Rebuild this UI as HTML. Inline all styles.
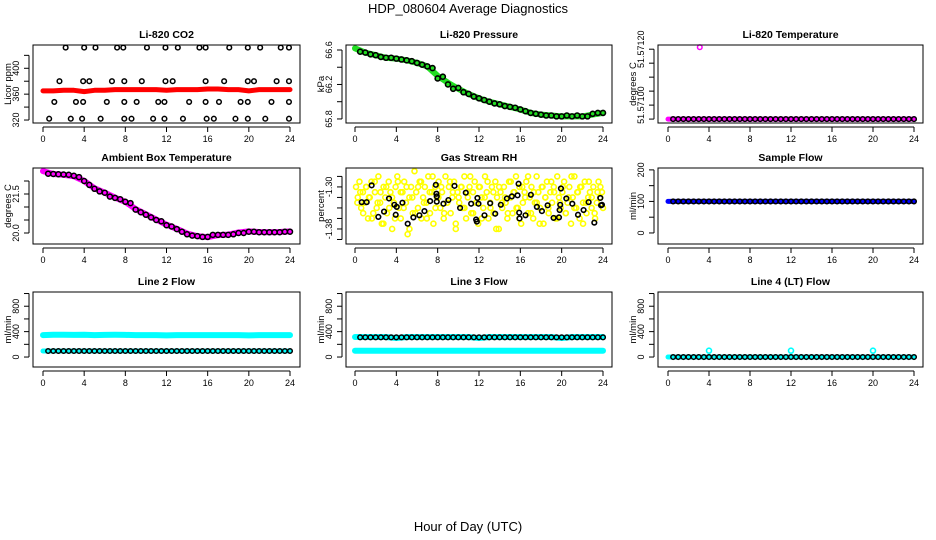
<!DOCTYPE html>
<html><head><meta charset="utf-8"><style>
html,body{margin:0;padding:0;background:#fff;}
svg{display:block;font-family:"Liberation Sans",sans-serif;}
</style></head><body>
<svg id="chart" width="936" height="540" viewBox="0 0 936 540">
<text x="468" y="13" text-anchor="middle" font-size="13">HDP_080604  Average Diagnostics</text>
<text x="468" y="531" text-anchor="middle" font-size="13">Hour of Day (UTC)</text>
</svg>
<script>
// ---------- data ----------
const xTicks = [0,4,8,12,16,20,24];
const halfHours = [0.5,1,1.5,2,2.5,3,3.5,4,4.5,5,5.5,6,6.5,7,7.5,8,8.5,9,9.5,10,10.5,11,11.5,12,12.5,13,13.5,14,14.5,15,15.5,16,16.5,17,17.5,18,18.5,19,19.5,20,20.5,21,21.5,22,22.5,23,23.5,24];
const hours = [0,1,2,3,4,5,6,7,8,9,10,11,12,13,14,15,16,17,18,19,20,21,22,23,24];

// CO2
const co2Red = [365,365,366,366,364,366,366,367,367,367,367,367,366,367,367,367,368,368,367,367,365,367,367,367,367];
const co2BlackHours = [2.2,4.0,5.1,7.2,7.8,10.1,11.9,13.1,15.2,15.8,18.1,19.9,21.1,23.1,23.9, 1.6,3.9,4.5,6.7,7.9,9.6,11.9,12.6,15.8,17.6,19.9,20.5,22.7,23.9, 1.1,3.2,3.9,6.2,7.9,9.1,11.2,11.8,14.2,15.8,17.1,19.2,19.9,22.2,23.9, 0.6,2.7,3.8,5.6,7.9,8.6,10.7,11.8,13.6,15.9,16.6,18.7,19.9,21.6,23.9];
const co2BlackVals = [432,432,432,432,432,432,432,432,432,432,432,432,432,432,432, 380,380,380,380,380,380,380,380,380,380,380,380,380,380, 348,348,348,348,348,348,348,348,348,348,348,348,348,348,348, 322,322,322,322,322,322,322,322,322,322,322,322,322,322,322];

// Pressure
const presBlack = [66.58,66.57,66.55,66.54,66.52,66.51,66.51,66.50,66.49,66.48,66.47,66.45,66.43,66.41,66.39,66.27,66.29,66.20,66.15,66.16,66.11,66.09,66.06,66.04,66.02,66.00,65.98,65.97,65.95,65.94,65.93,65.91,65.89,65.87,65.86,65.85,65.84,65.84,65.83,65.83,65.84,65.83,65.84,65.83,65.83,65.86,65.87,65.87];
const presGreen = [66.62,66.57,66.54,66.51,66.50,66.48,66.45,66.41,66.30,66.22,66.15,66.09,66.04,66.00,65.97,65.94,65.91,65.87,65.85,65.84,65.83,65.83,65.83,65.85,65.87];

// Li-820 temperature
const liTempPink = [51.57100,51.57100,51.57100,51.57100,51.57100,51.57100,51.57100,51.57100,51.57100,51.57100,51.57100,51.57100,51.57100,51.57100,51.57100,51.57100,51.57100,51.57100,51.57100,51.57100,51.57100,51.57100,51.57100,51.57100,51.57100];
const liTempOutlierHour = [3.1];
const liTempOutlierVal = [51.571257];
const liTempBlack = [51.571,51.571,51.571,51.571,51.571,51.571,51.571,51.571,51.571,51.571,51.571,51.571,51.571,51.571,51.571,51.571,51.571,51.571,51.571,51.571,51.571,51.571,51.571,51.571,51.571,51.571,51.571,51.571,51.571,51.571,51.571,51.571,51.571,51.571,51.571,51.571,51.571,51.571,51.571,51.571,51.571,51.571,51.571,51.571,51.571,51.571,51.571,51.571];

// Ambient box temperature
const ambBlack = [22.28,22.27,22.26,22.25,22.24,22.2,22.15,22.0,21.85,21.7,21.6,21.55,21.4,21.35,21.3,21.2,21.15,20.9,20.8,20.7,20.6,20.5,20.45,20.3,20.25,20.15,20.05,19.95,19.9,19.88,19.85,19.85,19.93,19.93,19.93,19.93,19.95,20.0,20.0,20.05,20.05,20.03,20.03,20.03,20.03,20.03,20.05,20.05];
const ambPink = [22.38,22.27,22.24,22.18,22.0,21.72,21.55,21.36,21.2,20.92,20.72,20.52,20.32,20.16,19.98,19.88,19.84,19.92,19.94,20.02,20.06,20.04,20.03,20.04,20.06];

// Gas stream RH
const rhYellow = [-1.30,-1.32,-1.29,-1.34,-1.31,-1.33,-1.30,-1.36,-1.32,-1.29,-1.35,-1.31,-1.34,-1.28,-1.33,-1.37,-1.30,-1.32,-1.35,-1.29,-1.31,-1.38,-1.33,-1.30,-1.28,-1.34,-1.36,-1.31,-1.29,-1.33,-1.39,-1.32,-1.30,-1.35,-1.27,-1.31,-1.34,-1.29,-1.36,-1.32,-1.30,-1.33,-1.28,-1.35,-1.31,-1.37,-1.30,-1.32,-1.29,-1.34,-1.31,-1.36,-1.28,-1.33,-1.30,-1.35,-1.32,-1.29,-1.38,-1.31,-1.33,-1.30,-1.34,-1.28,-1.36,-1.32,-1.30,-1.35,-1.31,-1.29,-1.33,-1.37,-1.30,-1.32,-1.34,-1.28,-1.31,-1.36,-1.33,-1.30,-1.35,-1.29,-1.32,-1.38,-1.31,-1.34,-1.30,-1.33,-1.36,-1.29,-1.32,-1.35,-1.31,-1.28,-1.34,-1.30,-1.37,-1.33,-1.31,-1.29,-1.35,-1.32,-1.30,-1.36,-1.33,-1.28,-1.31,-1.34,-1.30,-1.37,-1.32,-1.29,-1.35,-1.31,-1.33,-1.30,-1.36,-1.28,-1.32,-1.34,-1.31,-1.29,-1.35,-1.33,-1.30,-1.37,-1.32,-1.28,-1.34,-1.31,-1.36,-1.30,-1.33,-1.29,-1.35,-1.32,-1.31,-1.34,-1.30,-1.36,-1.33,-1.29,-1.32,-1.31];
const rhYellow2 = [-1.33,-1.31,-1.35,-1.30,-1.32,-1.36,-1.29,-1.33,-1.31,-1.37,-1.30,-1.34,-1.32,-1.36,-1.29,-1.31,-1.34,-1.30,-1.38,-1.32,-1.35,-1.30,-1.29,-1.33,-1.36,-1.31,-1.28,-1.34,-1.32,-1.30,-1.35,-1.33,-1.29,-1.31,-1.37,-1.32,-1.30,-1.34,-1.31,-1.28,-1.35,-1.33,-1.30,-1.36,-1.32,-1.29,-1.34,-1.31,-1.38,-1.30,-1.33,-1.32,-1.35,-1.29,-1.31,-1.34,-1.36,-1.30,-1.32,-1.28,-1.35,-1.31,-1.33,-1.37,-1.30,-1.32,-1.34,-1.29,-1.31,-1.36,-1.33,-1.30,-1.35,-1.32,-1.28,-1.34,-1.31,-1.30,-1.37,-1.33,-1.29,-1.32,-1.35,-1.31,-1.30,-1.34];
const rhBlackHours = [0.65,1.13,1.61,2.26,2.81,3.29,3.81,3.94,4.04,4.59,5.10,5.65,6.23,6.72,7.27,7.82,7.88,7.91,7.91,8.56,9.04,9.63,10.17,10.72,11.24,11.72,11.79,11.85,11.95,12.53,13.08,13.57,14.11,14.70,15.18,15.73,15.83,15.89,15.92,16.50,17.02,17.60,18.09,18.64,19.22,19.74,19.80,19.86,19.93,20.45,21.03,21.58,22.12,22.61,23.16,23.74,23.81,23.90];
const rhBlackVals = [-1.329,-1.329,-1.297,-1.357,-1.347,-1.322,-1.334,-1.353,-1.338,-1.330,-1.370,-1.358,-1.354,-1.346,-1.327,-1.296,-1.313,-1.318,-1.328,-1.332,-1.325,-1.298,-1.340,-1.311,-1.332,-1.362,-1.366,-1.321,-1.332,-1.354,-1.331,-1.351,-1.334,-1.322,-1.318,-1.316,-1.294,-1.349,-1.360,-1.354,-1.315,-1.338,-1.346,-1.335,-1.359,-1.358,-1.344,-1.334,-1.303,-1.322,-1.332,-1.353,-1.344,-1.329,-1.368,-1.321,-1.335,-1.334];

// Sample flow
const sampleBlue = [100,100,100,100,100,100,100,100,100,100,100,100,100,100,100,100,100,100,100,100,100,100,100,100,100];
const sampleBlack = [100,100,100,100,100,100,100,100,100,100,100,100,100,100,100,100,100,100,100,100,100,100,100,100,100,100,100,100,100,100,100,100,100,100,100,100,100,100,100,100,100,100,100,100,100,100,100,100];

// Line 2 flow
const line2Cyan = [345,350,350,348,350,345,348,350,348,345,345,345,340,345,345,345,345,345,345,345,340,345,345,345,345];
const line2CyanLow = [95,95,95,95,95,95,95,95,95,95,95,95,95,95,95,95,95,95,95,95,95,95,95,95,95];
const line2Black = [95,95,95,95,95,95,95,95,95,95,95,95,95,95,95,95,95,95,95,95,95,95,95,95,95,95,95,95,95,95,95,95,95,95,95,95,95,95,95,95,95,95,95,95,95,95,95,95];

// Line 3 flow
const line3Cyan = [315,315,315,315,300,315,315,315,315,315,315,315,300,315,315,315,315,315,315,315,300,315,315,315,315];
const line3CyanLow = [100,100,100,100,100,100,100,100,100,100,100,100,100,100,100,100,100,100,100,100,100,100,100,100,100];
const line3Black = [310,310,310,310,310,310,310,310,310,310,310,310,310,310,310,310,310,310,310,310,310,310,310,310,310,310,310,310,310,310,310,310,310,310,310,310,310,310,310,310,310,310,310,310,310,310,310,310];

// Line 4 flow
const line4Cyan = [0,0,0,0,0,0,0,0,0,0,0,0,0,0,0,0,0,0,0,0,0,0,0,0,0];
const line4OutlierHours = [4,12,20];
const line4OutlierVals = [100,100,100];
const line4Black = [0,0,0,0,0,0,0,0,0,0,0,0,0,0,0,0,0,0,0,0,0,0,0,0,0,0,0,0,0,0,0,0,0,0,0,0,0,0,0,0,0,0,0,0,0,0,0,0];

// ---------- drawing ----------
const NS = "http://www.w3.org/2000/svg";
const svg = document.getElementById('chart');
function mk(tag, attrs, parent){
  const e = document.createElementNS(NS, tag);
  for (const k in attrs) e.setAttribute(k, attrs[k]);
  (parent||svg).appendChild(e);
  return e;
}
const cols = [{l:33,r:300,x0:43,x1:290},{l:346,r:612,x0:355,x1:603},{l:658,r:923,x0:668,x1:914}];
const rows = [{t:45,b:123},{t:168,b:244},{t:292,b:367}];

function panel(name, title, ytitle, ci, ri, ymin, ymax, yticks, ylabels){
  const c = cols[ci], r = rows[ri];
  const g = mk('g', {});
  
  
  const xs = h => c.x0 + (c.x1 - c.x0) * h / 24;
  const ys = v => r.b - (v - ymin) / (ymax - ymin) * (r.b - r.t);
  const t = mk('text', {x:(c.l+c.r)/2, y:r.t-7, 'text-anchor':'middle', 'font-size':10.5, 'font-weight':'bold'}, g);
  t.textContent = title;
  
  
  const plot = mk('g', {}, g);
  
  
  const xa = mk('g', {}, g);
  
  
  mk('line', {x1:xs(0), x2:xs(24), y1:r.b+4, y2:r.b+4, stroke:'#000'}, xa);
  xTicks.forEach(h => {
    mk('line', {x1:xs(h), x2:xs(h), y1:r.b+4, y2:r.b+9, stroke:'#000'}, xa);
    const tl = mk('text', {x:xs(h), y:r.b+19, 'text-anchor':'middle', 'font-size':9}, xa);
    tl.textContent = h;
    
    
  });
  const ya = mk('g', {}, g);
  
  
  const ax = c.l - 4;
  mk('line', {x1:ax, x2:ax, y1:ys(yticks[0]), y2:ys(yticks[yticks.length-1]), stroke:'#000'}, ya);
  yticks.forEach(v => mk('line', {x1:ax-5, x2:ax, y1:ys(v), y2:ys(v), stroke:'#000'}, ya));
  ylabels.forEach(l => {
    const yy = ys(l.v);
    const tl = mk('text', {x:ax-10, y:yy, 'text-anchor':'middle', 'font-size':9, transform:`rotate(-90 ${ax-10} ${yy})`}, ya);
    tl.textContent = l.t;
    
    
  });
  const yt = mk('text', {x:c.l-22, y:(r.t+r.b)/2, 'text-anchor':'middle', 'font-size':9.5, transform:`rotate(-90 ${c.l-22} ${(r.t+r.b)/2})`}, ya);
  yt.textContent = ytitle;
  
  
  mk('rect', {x:c.l, y:r.t, width:c.r-c.l, height:r.b-r.t, fill:'none', stroke:'#000'}, g);
  return {xs, ys, plot};
}
function line(p, xsArr, vals, color, w){
  const pts = vals.map((v,i) => p.xs(xsArr[i]).toFixed(1) + ',' + p.ys(v).toFixed(1)).join(' ');
  const e = mk('polyline', {points:pts, fill:'none', stroke:color, 'stroke-width':w, 'stroke-linejoin':'round', 'stroke-linecap':'round'}, p.plot);
  
  
}
function pts(p, xsArr, vals, color, rad, sw, fill){
  vals.forEach((v,i) => {
    const e = mk('circle', {cx:p.xs(xsArr[i]), cy:p.ys(v), r:rad, fill:fill||'none', stroke:color, 'stroke-width':sw}, p.plot);
    
    
  });
}
function idxHours(n){ return Array.from({length:n}, (_,i) => 0.1 + i * 23.8 / (n-1)); }

let p = panel('co2-panel', 'Li-820 CO2', 'Licor ppm', 0, 0, 315.4, 436, [320,340,360,380,400,420], [{v:320,t:'320'},{v:360,t:'360'},{v:400,t:'400'}]);
line(p, hours, co2Red, '#ff0000', 5);
pts(p, co2BlackHours, co2BlackVals, '#000', 2.3, 1.5);

p = panel('pressure-panel', 'Li-820 Pressure', 'kPa', 1, 0, 65.753, 66.658, [65.8,66.0,66.2,66.4,66.6], [{v:65.8,t:'65.8'},{v:66.2,t:'66.2'},{v:66.6,t:'66.6'}]);
line(p, hours, presGreen, '#22dd22', 6);
pts(p, halfHours, presBlack, '#000', 2.5, 1.6, '#22dd22');

p = panel('li-temp-panel', 'Li-820 Temperature', 'degrees C', 2, 0, 51.570986, 51.571265, [51.571,51.57105,51.5711,51.57115,51.5712,51.57125], [{v:51.57105,t:'51.57100'},{v:51.57125,t:'51.57120'}]);
line(p, hours, liTempPink, '#ff00ff', 5);
pts(p, liTempOutlierHour, liTempOutlierVal, '#ff00ff', 2.3, 1.5);
pts(p, halfHours, liTempBlack, '#000', 2.3, 1.5, '#ff00ff');

p = panel('ambient-temp-panel', 'Ambient Box Temperature', 'degrees C', 0, 1, 19.577, 22.5, [20.0,20.5,21.0,21.5,22.0], [{v:20.0,t:'20.0'},{v:21.5,t:'21.5'}]);
line(p, hours, ambPink, '#ff00ff', 6);
pts(p, halfHours, ambBlack, '#000', 2.5, 1.5, '#ff00ff');

p = panel('rh-panel', 'Gas Stream RH', 'percent', 1, 1, -1.4086, -1.264, [-1.40,-1.38,-1.36,-1.34,-1.32,-1.30,-1.28], [{v:-1.30,t:'-1.30'},{v:-1.38,t:'-1.38'}]);
pts(p, idxHours(rhYellow.length), rhYellow, '#ffff00', 2.5, 1.6);
pts(p, idxHours(rhYellow2.length).map(h => Math.min(24, h + 0.13)), rhYellow2, '#ffff00', 2.5, 1.6);
pts(p, rhBlackHours, rhBlackVals, '#000', 2.3, 1.6);

p = panel('sample-flow-panel', 'Sample Flow', 'ml/min', 2, 1, -35, 206, [0,50,100,150,200], [{v:0,t:'0'},{v:100,t:'100'},{v:200,t:'200'}]);
line(p, hours, sampleBlue, '#0000ff', 5);
pts(p, halfHours, sampleBlack, '#000', 2.3, 1.5, '#0000ff');

p = panel('line2-flow-panel', 'Line 2 Flow', 'ml/min', 0, 2, -157, 1024, [0,200,400,600,800,1000], [{v:0,t:'0'},{v:400,t:'400'},{v:800,t:'800'}]);
line(p, hours, line2Cyan, '#00ffff', 6);
line(p, hours, line2CyanLow, '#00ffff', 5);
pts(p, halfHours, line2Black, '#000', 2.3, 1.5, '#00ffff');

p = panel('line3-flow-panel', 'Line 3 Flow', 'ml/min', 1, 2, -157, 1024, [0,200,400,600,800,1000], [{v:0,t:'0'},{v:400,t:'400'},{v:800,t:'800'}]);
line(p, hours, line3Cyan, '#00ffff', 6);
line(p, hours, line3CyanLow, '#00ffff', 6);
pts(p, halfHours, line3Black, '#000', 2.3, 1.5, '#00ffff');

p = panel('line4-flow-panel', 'Line 4 (LT) Flow', 'ml/min', 2, 2, -157, 1024, [0,200,400,600,800,1000], [{v:0,t:'0'},{v:400,t:'400'},{v:800,t:'800'}]);
line(p, hours, line4Cyan, '#00ffff', 5);
pts(p, line4OutlierHours, line4OutlierVals, '#00ffff', 2.5, 1.6);
pts(p, halfHours, line4Black, '#000', 2.3, 1.5, '#00ffff');
</script>
</body></html>
